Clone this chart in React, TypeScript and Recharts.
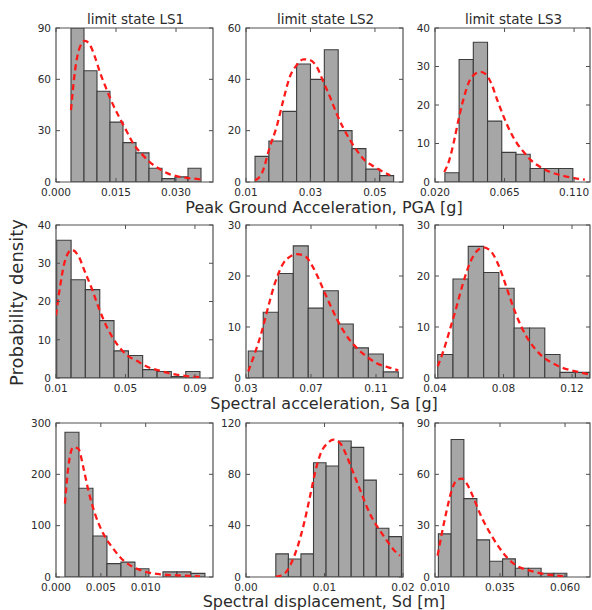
import React from "react";
import { ComposedChart, XAxis, YAxis, Line, ReferenceArea } from "recharts";

const FONT = "'DejaVu Sans', 'Liberation Sans', sans-serif";
const TEXT = "#2b2b2b";
const FRAME = "#505050";
const BAR_FILL = "#a6a6a6";
const BAR_EDGE = "#3c3c3c";
const CURVE = "#ff1a1a";

// ---------- titles / labels ----------
const COLUMN_TITLES = ["limit state LS1", "limit state LS2", "limit state LS3"];
const ROW_LABELS = [
  "Peak Ground Acceleration, PGA [g]",
  "Spectral acceleration, Sa [g]",
  "Spectral displacement, Sd [m]",
];
const Y_LABEL = "Probability density";

// ---------- PGA, LS1 ----------
const PGA1_X_TICKS = [0, 0.015, 0.03];
const PGA1_X_LABELS = ["0.000", "0.015", "0.030"];
const PGA1_Y_TICKS = [0, 30, 60, 90];
const PGA1_EDGES = [0.00375, 0.007, 0.01025, 0.0135, 0.01675, 0.02, 0.02325, 0.0265, 0.02975, 0.033, 0.03625];
const PGA1_COUNTS = [90, 65, 53, 35, 23, 17, 8, 2, 3, 8];
const PGA1_CURVE_X = [0.00375, 0.00475, 0.006, 0.00725, 0.0085, 0.00975, 0.011, 0.0125, 0.0139, 0.016, 0.0177, 0.0193, 0.0214, 0.0235, 0.0256, 0.0285, 0.031, 0.0343, 0.0365];
const PGA1_CURVE_Y = [42, 65, 79, 82.5, 80, 73, 64, 55, 47, 37, 29.5, 22.5, 16.5, 11.5, 8, 4.5, 3, 2, 1.5];

// ---------- PGA, LS2 ----------
const PGA2_X_TICKS = [0.01, 0.03, 0.05];
const PGA2_X_LABELS = ["0.01", "0.03", "0.05"];
const PGA2_Y_TICKS = [0, 20, 40, 60];
const PGA2_EDGES = [0.0128, 0.0171, 0.0214, 0.0257, 0.03, 0.0343, 0.0386, 0.0429, 0.0472, 0.0515, 0.0558];
const PGA2_COUNTS = [10, 16, 27.5, 46, 40, 51.5, 20, 13, 5, 2.5];
const PGA2_CURVE_X = [0.0128, 0.0149, 0.0174, 0.0195, 0.0216, 0.0236, 0.0257, 0.0278, 0.0298, 0.0319, 0.034, 0.0361, 0.0381, 0.0402, 0.0423, 0.0443, 0.0464, 0.049, 0.0516, 0.0547];
const PGA2_CURVE_Y = [0.7, 3.3, 13.7, 21.5, 32, 41, 45.5, 47.8, 47.5, 45, 39, 33, 26.7, 21, 16.3, 12.4, 9, 6.5, 4.6, 2.6];

// ---------- PGA, LS3 ----------
const PGA3_X_TICKS = [0.02, 0.065, 0.11];
const PGA3_X_LABELS = ["0.020", "0.065", "0.110"];
const PGA3_Y_TICKS = [0, 10, 20, 30, 40];
const PGA3_EDGES = [0.0264, 0.0356, 0.0448, 0.054, 0.0632, 0.0724, 0.0816, 0.0908, 0.1, 0.1092];
const PGA3_COUNTS = [2.4, 31.8, 36.3, 15.8, 7.7, 7.2, 3.5, 3.5, 3.5];
const PGA3_CURVE_X = [0.026, 0.0292, 0.0324, 0.0356, 0.0388, 0.042, 0.0463, 0.0496, 0.0528, 0.056, 0.0603, 0.0645, 0.0688, 0.0731, 0.0774, 0.0817, 0.0881, 0.0946, 0.1031, 0.1117, 0.117];
const PGA3_CURVE_Y = [2.6, 5.6, 10.8, 16.9, 22.1, 26, 28.2, 28.6, 28, 26, 21.3, 16.9, 13, 10, 7.8, 5.8, 3.9, 2.6, 1.6, 0.9, 0.6];

// ---------- Sa, LS1 ----------
const SA1_X_TICKS = [0.01, 0.05, 0.09];
const SA1_X_LABELS = ["0.01", "0.05", "0.09"];
const SA1_Y_TICKS = [0, 10, 20, 30, 40];
const SA1_EDGES = [0.0104, 0.0187, 0.0269, 0.0352, 0.0434, 0.0517, 0.0599, 0.0682, 0.0764, 0.0847, 0.0929];
const SA1_COUNTS = [36, 25.7, 23.1, 15, 7.1, 5.9, 2.2, 1.7, 0.4, 1.7];
const SA1_CURVE_X = [0.01, 0.0123, 0.0152, 0.019, 0.0228, 0.0267, 0.0306, 0.0344, 0.0392, 0.0449, 0.0507, 0.0565, 0.0622, 0.0699, 0.0775, 0.0852, 0.0929];
const SA1_CURVE_Y = [16.4, 23.8, 30.7, 33.5, 32, 27.7, 23.4, 18.6, 13.4, 9, 6, 4.5, 3, 1.9, 1, 0.5, 0.2];

// ---------- Sa, LS2 ----------
const SA2_X_TICKS = [0.03, 0.07, 0.11];
const SA2_X_LABELS = ["0.03", "0.07", "0.11"];
const SA2_Y_TICKS = [0, 10, 20, 30];
const SA2_EDGES = [0.0314, 0.0406, 0.0499, 0.0591, 0.0683, 0.0776, 0.0868, 0.096, 0.1053, 0.1145, 0.1237];
const SA2_COUNTS = [5.3, 12.9, 20.5, 25.9, 13.7, 17.1, 10.6, 5.9, 4.7, 1.2];
const SA2_CURVE_X = [0.0314, 0.0355, 0.0397, 0.0437, 0.0478, 0.053, 0.0571, 0.0612, 0.0663, 0.0704, 0.0745, 0.0786, 0.0827, 0.0878, 0.093, 0.0981, 0.1043, 0.1104, 0.1186, 0.1237];
const SA2_CURVE_Y = [1.3, 4.9, 9.1, 14, 18.6, 22.5, 23.8, 24.3, 23.9, 22.2, 19.6, 16.6, 13.7, 10.4, 7.8, 5.9, 4.2, 2.9, 2, 1.5];

// ---------- Sa, LS3 ----------
const SA3_X_TICKS = [0.04, 0.08, 0.12];
const SA3_X_LABELS = ["0.04", "0.08", "0.12"];
const SA3_Y_TICKS = [0, 10, 20, 30];
const SA3_EDGES = [0.0416, 0.0505, 0.0594, 0.0684, 0.0773, 0.0862, 0.0952, 0.1041, 0.113, 0.122, 0.1305];
const SA3_COUNTS = [4.6, 19.4, 25.8, 20.7, 17.6, 9.8, 9.8, 4.6, 1.1, 1.1];
const SA3_CURVE_X = [0.0416, 0.0448, 0.0487, 0.0526, 0.0564, 0.0603, 0.0642, 0.068, 0.0719, 0.0758, 0.0796, 0.0835, 0.0874, 0.0912, 0.0951, 0.099, 0.1028, 0.1086, 0.1144, 0.1221, 0.1299];
const SA3_CURVE_Y = [2.3, 5.2, 9.5, 14, 18.6, 22.5, 24.8, 25.6, 25.1, 23.1, 19.9, 16, 12.4, 9.5, 7.2, 5.5, 4.2, 2.9, 2, 1.3, 0.7];

// ---------- Sd, LS1 ----------
const SD1_X_TICKS = [0, 0.005, 0.01];
const SD1_X_LABELS = ["0.000", "0.005", "0.010"];
const SD1_Y_TICKS = [0, 100, 200, 300];
const SD1_EDGES = [0.001, 0.00256, 0.00412, 0.00568, 0.00724, 0.0088, 0.01036, 0.01192, 0.01348, 0.01504, 0.0166];
const SD1_COUNTS = [282, 173, 80, 26, 29, 16, 0, 10, 10, 7];
const SD1_CURVE_X = [0.001, 0.00137, 0.00193, 0.00249, 0.00304, 0.0036, 0.00435, 0.00527, 0.00639, 0.0075, 0.00862, 0.01011, 0.01159, 0.01346, 0.01605];
const SD1_CURVE_Y = [143, 214, 253, 250, 214, 169, 123, 84.5, 55, 32.5, 19.5, 9.7, 5.3, 3.3, 1.4];

// ---------- Sd, LS2 ----------
const SD2_X_TICKS = [0, 0.01, 0.02];
const SD2_X_LABELS = ["0.00", "0.01", "0.02"];
const SD2_Y_TICKS = [0, 40, 80, 120];
const SD2_EDGES = [0.0038, 0.0054, 0.007, 0.0086, 0.0102, 0.0118, 0.0134, 0.015, 0.0166, 0.0182, 0.0198];
const SD2_COUNTS = [18, 14, 18, 89, 86.5, 106, 101, 75.5, 38, 31.5];
const SD2_CURVE_X = [0.0038, 0.00485, 0.0057, 0.00654, 0.00738, 0.00823, 0.00886, 0.00949, 0.01034, 0.01118, 0.01203, 0.01287, 0.01371, 0.01456, 0.0154, 0.01624, 0.01709, 0.01794, 0.01877, 0.01962];
const SD2_CURVE_Y = [0.2, 2.3, 10, 23, 41.5, 65, 83, 96, 104, 107, 104, 93.6, 80.6, 67.5, 54.5, 44, 36, 28.4, 21.5, 16.7];

// ---------- Sd, LS3 ----------
const SD3_X_TICKS = [0.01, 0.035, 0.06];
const SD3_X_LABELS = ["0.010", "0.035", "0.060"];
const SD3_Y_TICKS = [0, 30, 60, 90];
const SD3_EDGES = [0.0113, 0.0162, 0.0211, 0.0261, 0.031, 0.036, 0.0409, 0.0459, 0.0508, 0.0557, 0.0607];
const SD3_COUNTS = [25.2, 80.4, 45.8, 21.7, 9.2, 10.6, 5.1, 5.1, 2.2, 2.2];
const SD3_CURVE_X = [0.011, 0.0126, 0.0145, 0.0164, 0.0183, 0.0203, 0.0222, 0.0247, 0.0273, 0.0299, 0.0337, 0.0376, 0.0414, 0.0465, 0.0517, 0.0568, 0.0593];
const SD3_CURVE_Y = [12.5, 25.2, 38.9, 50.6, 56.5, 57.5, 54.6, 46.7, 37, 29.1, 19.4, 11.5, 6.6, 3.7, 1.8, 0.8, 0.4];

type PanelProps = {
  left: number;
  top: number;
  w: number;
  h: number;
  xDomain: [number, number];
  xTicks: number[];
  xLabels: string[];
  yDomain: [number, number];
  yTicks: number[];
  edges: number[];
  counts: number[];
  cx: number[];
  cy: number[];
};

const YW = 40;
const XH = 25;
const MT = 5;
const MR = 22;

function Panel(p: PanelProps) {
  const data = p.cx.map((x, i) => ({ x, y: p.cy[i] }));
  const labelFor = (v: number) => {
    let best = 0;
    let bd = Infinity;
    p.xTicks.forEach((t, i) => {
      const d = Math.abs(t - v);
      if (d < bd) {
        bd = d;
        best = i;
      }
    });
    return p.xLabels[best];
  };
  const XTick = (props: any) => {
    const { x, y, payload } = props;
    return (
      <g>
        <line x1={x} x2={x} y1={y} y2={y - 4} stroke={FRAME} strokeWidth={1} />
        <line x1={x} x2={x} y1={y - p.h} y2={y - p.h + 4} stroke={FRAME} strokeWidth={1} />
        <text x={x} y={y + 13.5} textAnchor="middle" fontSize={10.5} fill={TEXT} fontFamily={FONT}>
          {labelFor(payload.value)}
        </text>
      </g>
    );
  };
  const YTick = (props: any) => {
    const { x, y, payload } = props;
    return (
      <g>
        <line x1={x} x2={x + 4} y1={y} y2={y} stroke={FRAME} strokeWidth={1} />
        <line x1={x + p.w} x2={x + p.w - 4} y1={y} y2={y} stroke={FRAME} strokeWidth={1} />
        <text x={x - 5} y={y + 3.8} textAnchor="end" fontSize={10.5} fill={TEXT} fontFamily={FONT}>
          {String(payload.value)}
        </text>
      </g>
    );
  };
  return (
    <div style={{ position: "absolute", left: p.left - YW, top: p.top - MT }}>
      <ComposedChart
        width={YW + p.w + MR}
        height={MT + p.h + XH}
        margin={{ top: MT, right: MR, bottom: 0, left: 0 }}
        data={data}
      >
        <XAxis
          type="number"
          dataKey="x"
          domain={p.xDomain}
          ticks={p.xTicks}
          allowDataOverflow
          interval={0}
          tickSize={0}
          tickMargin={0}
          axisLine={false}
          tickLine={false}
          tick={XTick}
          height={XH}
        />
        <YAxis
          type="number"
          domain={p.yDomain}
          ticks={p.yTicks}
          allowDataOverflow
          interval={0}
          tickSize={0}
          tickMargin={0}
          axisLine={false}
          tickLine={false}
          tick={YTick}
          width={YW}
        />
        {p.counts.map((c, i) =>
          c > 0 ? (
            <ReferenceArea
              key={"b" + i}
              x1={p.edges[i]}
              x2={p.edges[i + 1]}
              y1={0}
              y2={c}
              fill={BAR_FILL}
              fillOpacity={1}
              stroke={BAR_EDGE}
              strokeWidth={1.1}
              ifOverflow="hidden"
            />
          ) : null
        )}
        <Line
          type="monotone"
          dataKey="y"
          stroke={CURVE}
          strokeWidth={2.3}
          strokeDasharray="6 4"
          dot={false}
          activeDot={false}
          isAnimationActive={false}
        />
        <ReferenceArea
          x1={p.xDomain[0]}
          x2={p.xDomain[1]}
          y1={p.yDomain[0]}
          y2={p.yDomain[1]}
          fill="none"
          fillOpacity={0}
          stroke={FRAME}
          strokeWidth={1.2}
          ifOverflow="visible"
        />
      </ComposedChart>
    </div>
  );
}

const COLS = [
  { left: 56, w: 157 },
  { left: 246, w: 157 },
  { left: 435, w: 155 },
];
const ROWS = [
  { top: 28, h: 154 },
  { top: 225, h: 153 },
  { top: 423, h: 154 },
];

export default function App() {
  const panels: (Omit<PanelProps, "left" | "top" | "w" | "h"> & { r: number; c: number })[] = [
    { r: 0, c: 0, xDomain: [0, 0.03925], xTicks: PGA1_X_TICKS, xLabels: PGA1_X_LABELS, yDomain: [0, 90], yTicks: PGA1_Y_TICKS, edges: PGA1_EDGES, counts: PGA1_COUNTS, cx: PGA1_CURVE_X, cy: PGA1_CURVE_Y },
    { r: 0, c: 1, xDomain: [0.01, 0.0587], xTicks: PGA2_X_TICKS, xLabels: PGA2_X_LABELS, yDomain: [0, 60], yTicks: PGA2_Y_TICKS, edges: PGA2_EDGES, counts: PGA2_COUNTS, cx: PGA2_CURVE_X, cy: PGA2_CURVE_Y },
    { r: 0, c: 2, xDomain: [0.02, 0.1203], xTicks: PGA3_X_TICKS, xLabels: PGA3_X_LABELS, yDomain: [0, 40], yTicks: PGA3_Y_TICKS, edges: PGA3_EDGES, counts: PGA3_COUNTS, cx: PGA3_CURVE_X, cy: PGA3_CURVE_Y },
    { r: 1, c: 0, xDomain: [0.01, 0.1004], xTicks: SA1_X_TICKS, xLabels: SA1_X_LABELS, yDomain: [0, 40], yTicks: SA1_Y_TICKS, edges: SA1_EDGES, counts: SA1_COUNTS, cx: SA1_CURVE_X, cy: SA1_CURVE_Y },
    { r: 1, c: 1, xDomain: [0.03, 0.1266], xTicks: SA2_X_TICKS, xLabels: SA2_X_LABELS, yDomain: [0, 30], yTicks: SA2_Y_TICKS, edges: SA2_EDGES, counts: SA2_COUNTS, cx: SA2_CURVE_X, cy: SA2_CURVE_Y },
    { r: 1, c: 2, xDomain: [0.04, 0.1305], xTicks: SA3_X_TICKS, xLabels: SA3_X_LABELS, yDomain: [0, 30], yTicks: SA3_Y_TICKS, edges: SA3_EDGES, counts: SA3_COUNTS, cx: SA3_CURVE_X, cy: SA3_CURVE_Y },
    { r: 2, c: 0, xDomain: [0, 0.0175], xTicks: SD1_X_TICKS, xLabels: SD1_X_LABELS, yDomain: [0, 300], yTicks: SD1_Y_TICKS, edges: SD1_EDGES, counts: SD1_COUNTS, cx: SD1_CURVE_X, cy: SD1_CURVE_Y },
    { r: 2, c: 1, xDomain: [0, 0.02], xTicks: SD2_X_TICKS, xLabels: SD2_X_LABELS, yDomain: [0, 120], yTicks: SD2_Y_TICKS, edges: SD2_EDGES, counts: SD2_COUNTS, cx: SD2_CURVE_X, cy: SD2_CURVE_Y },
    { r: 2, c: 2, xDomain: [0.01, 0.0696], xTicks: SD3_X_TICKS, xLabels: SD3_X_LABELS, yDomain: [0, 90], yTicks: SD3_Y_TICKS, edges: SD3_EDGES, counts: SD3_COUNTS, cx: SD3_CURVE_X, cy: SD3_CURVE_Y },
  ];
  const labelBaselines = [212.5, 408.5, 606.5];
  return (
    <div
      style={{
        position: "absolute",
        left: 0,
        top: 0,
        width: 592,
        height: 610,
        background: "#ffffff",
        overflow: "hidden",
        fontFamily: FONT,
      }}
    >
      {panels.map((p, i) => (
        <Panel
          key={i}
          left={COLS[p.c].left}
          top={ROWS[p.r].top}
          w={COLS[p.c].w}
          h={ROWS[p.r].h}
          {...p}
        />
      ))}
      <svg
        width={592}
        height={610}
        style={{ position: "absolute", left: 0, top: 0, pointerEvents: "none" }}
      >
        {COLUMN_TITLES.map((t, i) => (
          <text
            key={t}
            x={COLS[i].left + COLS[i].w / 2 + 1}
            y={24}
            textAnchor="middle"
            fontSize={13.5}
            fill={TEXT}
            fontFamily={FONT}
          >
            {t}
          </text>
        ))}
        {ROW_LABELS.map((t, i) => (
          <text
            key={t}
            x={324}
            y={labelBaselines[i]}
            textAnchor="middle"
            fontSize={16}
            fill={TEXT}
            fontFamily={FONT}
          >
            {t}
          </text>
        ))}
        <text
          transform="translate(23,302.5) rotate(-90)"
          textAnchor="middle"
          fontSize={18}
          fill={TEXT}
          fontFamily={FONT}
        >
          {Y_LABEL}
        </text>
      </svg>
    </div>
  );
}
